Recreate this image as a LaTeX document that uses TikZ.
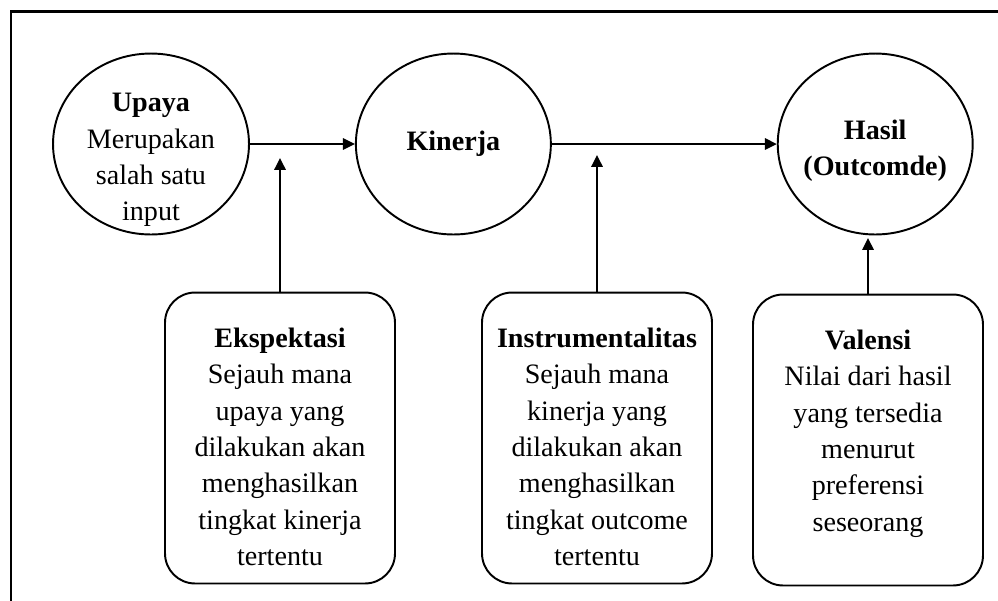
\documentclass[tikz,border=0pt]{standalone}
\usepackage{fontspec}
\setmainfont{Liberation Serif}
\usetikzlibrary{shapes.geometric,arrows.meta,positioning}

\tikzset{
  bulat/.style={ellipse, draw, line width=1.1pt, minimum width=3.9cm, minimum height=3.62cm, inner sep=0pt},
  kotak/.style={draw, rounded corners=0.6cm, line width=1.1pt, minimum width=4.6cm, minimum height=5.82cm, inner sep=0pt},
  teks/.style={align=center, inner sep=0pt, font=\fontsize{16}{20.7}\selectfont},
  panah/.style={-{Triangle[length=6.8pt,width=6.6pt]}, line width=0.8pt},
}

\begin{document}
\begin{tikzpicture}[x=0.02cm, y=-0.02cm]
	\useasboundingbox (0,0) rectangle (998,600);
	\clip (0,0) rectangle (998,600);
	\draw[line width=1.7pt] (11,11) rectangle (1020,620);

	% lingkaran
	\node[bulat, minimum width=3.92cm] (upaya) at (151,144) {};
	\node[bulat, right=2.1cm of upaya] (kinerja) {};
	\node[bulat, right=4.5cm of kinerja] (hasil) {};
	\node[teks] (upaya-t) at (151,160) {\textbf{Upaya}\\Merupakan\\salah satu\\input};
	\node[teks] (kinerja-t) at (kinerja) {\textbf{Kinerja}};
	\node[teks, yshift=-4pt] (hasil-t) at (hasil) {\textbf{Hasil}\\\textbf{(Outcomde)}};

	% kotak
	\node[kotak] (eks) at (280,438) {};
	\node[kotak] (ins) at (597,438) {};
	\node[kotak] (val) at (868,440) {};
	\node[teks, anchor=north, yshift=-0.72cm] (eks-t) at (eks.north) {\textbf{Ekspektasi}\\Sejauh mana\\upaya yang\\dilakukan akan\\menghasilkan\\tingkat kinerja\\tertentu};
	\node[teks, anchor=north, yshift=-0.72cm] (ins-t) at (ins.north) {\textbf{Instrumentalitas}\\Sejauh mana\\kinerja yang\\dilakukan akan\\menghasilkan\\tingkat outcome\\tertentu};
	\node[teks, anchor=north, yshift=-0.72cm] (val-t) at (val.north) {\textbf{Valensi}\\Nilai dari hasil\\yang tersedia\\menurut\\preferensi\\seseorang};

	\coordinate (ujung-eks) at (280,158);
	\coordinate (ujung-ins) at (597,155);
	\coordinate (ujung-val) at (868,238);

	\draw[panah] (upaya.east) -- (kinerja.west);
	\draw[panah] (kinerja.east) -- (hasil.west);
	\draw[panah] (eks.north) -- (ujung-eks);
	\draw[panah] (ins.north) -- (ujung-ins);
	\draw[panah] (val.north) -- (ujung-val);
\end{tikzpicture}
\end{document}
